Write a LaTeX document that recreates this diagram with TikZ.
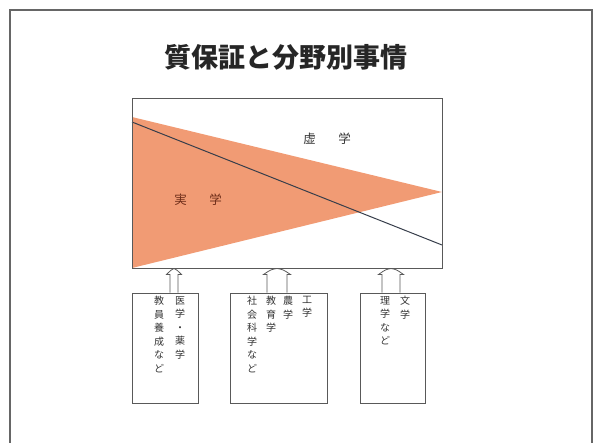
\documentclass[tikz,border=0pt]{standalone}
\usepackage{fontspec}
\newfontfamily\cjk{Noto Sans CJK JP}
\definecolor{wedge}{RGB}{241,155,116}
\definecolor{jitsu}{RGB}{110,45,25}
\definecolor{slope}{RGB}{55,62,75}
\tikzset{
  box/.style={draw=black!65, line width=1pt, inner sep=0pt},
  col/.style={anchor=north, align=center, inner sep=0pt, text=black!80,
    font=\cjk\fontsize{10}{13.5}\selectfont},
  lift/.style={draw=black!65, line width=0.8pt, to path={
    ([xshift=-#1]\tikztostart) -- ([xshift=-#1, yshift=-6pt]\tikztotarget)
    -- ([xshift=-#1-3.5pt, yshift=-6pt]\tikztotarget)
    .. controls ([xshift=-#1*0.6, yshift=-1pt]\tikztotarget) .. (\tikztotarget)
    .. controls ([xshift=#1*0.6, yshift=-1pt]\tikztotarget) .. ([xshift=#1+3.5pt, yshift=-6pt]\tikztotarget)
    -- ([xshift=#1, yshift=-6pt]\tikztotarget) -- ([xshift=#1]\tikztostart)}},
}
\begin{document}
\begin{tikzpicture}[x=1pt, y=-1pt]
            \useasboundingbox (0,0) rectangle (593,443);
            \draw[black!60, line width=1.2pt] (10,443) -- (10,10) -- (592,10) -- (592,443);

            \node (title) at (286,57) [font=\cjk\bfseries\fontsize{27}{30}\selectfont, text=black!85] {質保証と分野別事情};

            % chart
            \fill[wedge] (132,117) -- (442,192) -- (132,268) -- cycle;
            \draw[slope, line width=1pt] (132,122) -- (442,245);
            \node (chart) at (287,183.5) [box, minimum width=310, minimum height=169] {};
            \node (kyo) at (327,139) [font=\cjk\fontsize{12.5}{14}\selectfont, text=black!80] {虚\hspace{1.8em}学};
            \node (jit) at (198,200) [font=\cjk\fontsize{12.5}{14}\selectfont, text=jitsu] {実\hspace{1.8em}学};

            % fields
            \node (b1) at (165,348) [box, minimum width=66, minimum height=110] {};
            \node (b2) at (278.5,348) [box, minimum width=97, minimum height=110] {};
            \node (b3) at (392.5,348) [box, minimum width=65, minimum height=110] {};

            \node (c11) at (180,296) [col] {医\\学\\・\\薬\\学};
            \node (c12) at (159,296) [col] {教\\員\\養\\成\\な\\ど};
            \node (c21) at (307,296) [col] {工\\学};
            \node (c22) at (288,296) [col] {農\\学};
            \node (c23) at (271,296) [col] {教\\育\\学};
            \node (c24) at (252,296) [col] {社\\会\\科\\学\\な\\ど};
            \node (c31) at (405,296) [col] {文\\学};
            \node (c32) at (385,296) [col] {理\\学\\な\\ど};

            \coordinate (a1) at ([xshift=9pt]b1.north);
            \coordinate (a2) at ([xshift=-1.5pt]b2.north);
            \coordinate (a3) at ([xshift=-1.5pt]b3.north);
            \draw[lift=4pt] (a1) to (a1 |- chart.south);
            \draw[lift=10pt] (a2) to (a2 |- chart.south);
            \draw[lift=9pt] (a3) to (a3 |- chart.south);
        \end{tikzpicture}
\end{document}
